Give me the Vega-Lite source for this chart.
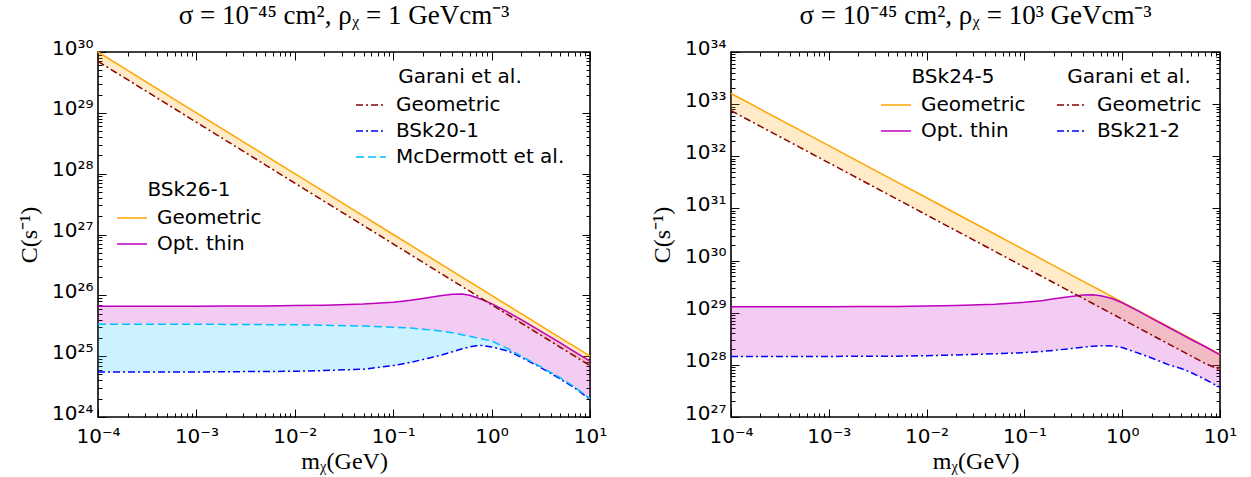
{
  "$schema": "https://vega.github.io/schema/vega-lite/v6.json",
  "padding": {"left": 16, "top": 1, "right": 5, "bottom": 2},
  "background": "white",
  "config": {
    "font": "DejaVu Sans",
    "view": {"stroke": "black", "strokeWidth": 1.6},
    "axis": {"grid": false, "domain": false, "tickColor": "black", "tickWidth": 1, "labelColor": "black", "labelFontSize": 20, "labelFont": "DejaVu Sans", "titleFont": "Liberation Serif", "titleFontSize": 24, "titleFontWeight": "normal", "titleColor": "black", "labelFlush": false, "labelOverlap": false, "labelBound": false},
    "legend": {"symbolType": "stroke", "symbolSize": 900, "symbolStrokeWidth": 1.5, "labelFontSize": 20, "titleFontSize": 20, "titleFontWeight": "normal", "labelColor": "black", "titleColor": "black", "labelOffset": 9, "rowPadding": 0, "titleAnchor": "middle", "titlePadding": 2, "padding": 0, "labelFont": "DejaVu Sans", "titleFont": "DejaVu Sans", "labelLimit": 0},
    "title": {"font": "Liberation Serif", "fontSize": 27, "fontWeight": "normal", "frame": "group", "offset": 8, "color": "black", "anchor": "middle"}
  },
  "datasets": {
    "left": [
      {"m": 0.0001, "geoA": 1e30, "geoG": 7e29, "thin": 6.6e25, "mcd": 3.35e25, "bsk": 5.5e24},
      {"m": 0.0002, "geoA": 5e29, "geoG": 3.5e29, "thin": 6.6e25, "mcd": 3.35e25, "bsk": 5.5e24},
      {"m": 0.0005, "geoA": 2e29, "geoG": 1.4e29, "thin": 6.6e25, "mcd": 3.35e25, "bsk": 5.5e24},
      {"m": 0.001, "geoA": 1e29, "geoG": 7e28, "thin": 6.6e25, "mcd": 3.35e25, "bsk": 5.5e24},
      {"m": 0.002, "geoA": 5e28, "geoG": 3.5e28, "thin": 6.65e25, "mcd": 3.33e25, "bsk": 5.55e24},
      {"m": 0.005, "geoA": 2e28, "geoG": 1.4e28, "thin": 6.7e25, "mcd": 3.3e25, "bsk": 5.6e24},
      {"m": 0.01, "geoA": 1e28, "geoG": 7e27, "thin": 6.8e25, "mcd": 3.28e25, "bsk": 5.65e24},
      {"m": 0.02, "geoA": 5e27, "geoG": 3.5e27, "thin": 6.9e25, "mcd": 3.22e25, "bsk": 5.8e24},
      {"m": 0.05, "geoA": 2e27, "geoG": 1.4e27, "thin": 7.2e25, "mcd": 3.12e25, "bsk": 6.1e24},
      {"m": 0.1, "geoA": 1e27, "geoG": 7e26, "thin": 7.7e25, "mcd": 3.0e25, "bsk": 7.0e24},
      {"m": 0.15, "geoA": 6.67e26, "geoG": 4.67e26, "thin": 8.3e25, "mcd": 2.9e25, "bsk": 7.9e24},
      {"m": 0.2, "geoA": 5e26, "geoG": 3.5e26, "thin": 8.9e25, "mcd": 2.78e25, "bsk": 8.8e24},
      {"m": 0.3, "geoA": 3.33e26, "geoG": 2.33e26, "thin": 9.8e25, "mcd": 2.6e25, "bsk": 1.03e25},
      {"m": 0.4, "geoA": 2.5e26, "geoG": 1.75e26, "thin": 1.04e26, "mcd": 2.42e25, "bsk": 1.18e25},
      {"m": 0.5, "geoA": 2e26, "geoG": 1.4e26, "thin": 1.05e26, "mcd": 2.25e25, "bsk": 1.32e25},
      {"m": 0.6, "geoA": 1.67e26, "geoG": 1.17e26, "thin": 1.0e26, "mcd": 2.12e25, "bsk": 1.42e25},
      {"m": 0.7, "geoA": 1.43e26, "geoG": 1e26, "thin": 9.2e25, "mcd": 2.0e25, "bsk": 1.48e25},
      {"m": 0.8, "geoA": 1.25e26, "geoG": 8.75e25, "thin": 8.5e25, "mcd": 1.92e25, "bsk": 1.5e25},
      {"m": 1, "geoA": 1e26, "geoG": 7e25, "thin": 7.3e25, "mcd": 1.78e25, "bsk": 1.42e25},
      {"m": 1.5, "geoA": 6.67e25, "geoG": 4.67e25, "thin": 5.2e25, "mcd": 1.3e25, "bsk": 1.2e25},
      {"m": 2, "geoA": 5e25, "geoG": 3.5e25, "thin": 4.0e25, "mcd": 1.0e25, "bsk": 9.6e24},
      {"m": 3, "geoA": 3.33e25, "geoG": 2.33e25, "thin": 2.7e25, "mcd": 7.0e24, "bsk": 6.8e24},
      {"m": 5, "geoA": 2e25, "geoG": 1.4e25, "thin": 1.65e25, "mcd": 4.4e24, "bsk": 4.2e24},
      {"m": 7, "geoA": 1.43e25, "geoG": 1e25, "thin": 1.18e25, "mcd": 3.1e24, "bsk": 3.0e24},
      {"m": 10, "geoA": 1e25, "geoG": 7e24, "thin": 8.3e24, "mcd": 2e24, "bsk": 1.95e24}
    ],
    "right": [
      {"m": 0.0001, "geoA": 1.6e33, "geoG": 7.5e32, "thin": 1.3e29, "bsk": 1.45e28},
      {"m": 0.0002, "geoA": 8e32, "geoG": 3.75e32, "thin": 1.3e29, "bsk": 1.45e28},
      {"m": 0.0005, "geoA": 3.2e32, "geoG": 1.5e32, "thin": 1.3e29, "bsk": 1.45e28},
      {"m": 0.001, "geoA": 1.6e32, "geoG": 7.5e31, "thin": 1.3e29, "bsk": 1.45e28},
      {"m": 0.002, "geoA": 8e31, "geoG": 3.75e31, "thin": 1.31e29, "bsk": 1.46e28},
      {"m": 0.005, "geoA": 3.2e31, "geoG": 1.5e31, "thin": 1.32e29, "bsk": 1.47e28},
      {"m": 0.01, "geoA": 1.6e31, "geoG": 7.5e30, "thin": 1.34e29, "bsk": 1.5e28},
      {"m": 0.02, "geoA": 8e30, "geoG": 3.75e30, "thin": 1.37e29, "bsk": 1.55e28},
      {"m": 0.05, "geoA": 3.2e30, "geoG": 1.5e30, "thin": 1.45e29, "bsk": 1.63e28},
      {"m": 0.1, "geoA": 1.6e30, "geoG": 7.5e29, "thin": 1.58e29, "bsk": 1.72e28},
      {"m": 0.15, "geoA": 1.07e30, "geoG": 5e29, "thin": 1.7e29, "bsk": 1.8e28},
      {"m": 0.2, "geoA": 8e29, "geoG": 3.75e29, "thin": 1.85e29, "bsk": 1.9e28},
      {"m": 0.3, "geoA": 5.33e29, "geoG": 2.5e29, "thin": 2.05e29, "bsk": 2.05e28},
      {"m": 0.4, "geoA": 4e29, "geoG": 1.88e29, "thin": 2.18e29, "bsk": 2.18e28},
      {"m": 0.5, "geoA": 3.2e29, "geoG": 1.5e29, "thin": 2.2e29, "bsk": 2.27e28},
      {"m": 0.6, "geoA": 2.67e29, "geoG": 1.25e29, "thin": 2.12e29, "bsk": 2.32e28},
      {"m": 0.7, "geoA": 2.29e29, "geoG": 1.07e29, "thin": 1.98e29, "bsk": 2.33e28},
      {"m": 0.8, "geoA": 2e29, "geoG": 9.4e28, "thin": 1.85e29, "bsk": 2.3e28},
      {"m": 1, "geoA": 1.6e29, "geoG": 7.5e28, "thin": 1.55e29, "bsk": 2.15e28},
      {"m": 1.5, "geoA": 1.07e29, "geoG": 5e28, "thin": 1.05e29, "bsk": 1.65e28},
      {"m": 2, "geoA": 8e28, "geoG": 3.75e28, "thin": 7.8e28, "bsk": 1.35e28},
      {"m": 3, "geoA": 5.33e28, "geoG": 2.5e28, "thin": 5.2e28, "bsk": 1.0e28},
      {"m": 4, "geoA": 4e28, "geoG": 1.88e28, "thin": 3.9e28, "bsk": 8.5e27},
      {"m": 5, "geoA": 3.2e28, "geoG": 1.5e28, "thin": 3.1e28, "bsk": 7.2e27},
      {"m": 7, "geoA": 2.29e28, "geoG": 1.07e28, "thin": 2.25e28, "bsk": 5.3e27},
      {"m": 10, "geoA": 1.6e28, "geoG": 8e27, "thin": 1.55e28, "bsk": 3.7e27}
    ]
  },
  "spacing": 41,
  "resolve": {
    "scale": {"x": "independent", "y": "independent", "color": "independent", "stroke": "independent", "strokeDash": "independent"},
    "legend": {"color": "independent", "stroke": "independent", "strokeDash": "independent"}
  },
  "hconcat": [
    {
      "width": 492,
      "height": 365,
      "title": {"text": "σ = 10⁻⁴⁵  cm²,   ρᵪ = 1  GeVcm⁻³"},
      "data": {"name": "left"},
      "resolve": {"axis": {"x": "independent", "y": "independent"}},
      "layer": [
        {
          "mark": {"type": "area", "color": "#ffa500", "opacity": 0.22},
          "encoding": {
            "x": {"field": "m", "type": "quantitative", "scale": {"type": "log", "domain": [0.0001, 10], "nice": false},
                  "axis": {"orient": "bottom", "values": [0.0001, 0.001, 0.01, 0.1, 1, 10], "tickSize": -8, "labelPadding": 17, "labelExpr": "'10' + ['⁻⁴','⁻³','⁻²','⁻¹','⁰','¹'][round(log(datum.value)/LN10)+4]", "title": "mᵪ(GeV)", "titlePadding": 3}},
            "y": {"field": "geoA", "type": "quantitative", "scale": {"type": "log", "domain": [1e24, 1e30], "nice": false},
                  "axis": {"orient": "left", "values": [1e24, 1e25, 1e26, 1e27, 1e28, 1e29, 1e30], "tickSize": -8, "labelPadding": 13, "labelOffset": -4, "labelExpr": "'10' + ['²⁴','²⁵','²⁶','²⁷','²⁸','²⁹','³⁰'][round(log(datum.value)/LN10)-24]", "title": "C(s⁻¹)", "titlePadding": 10}},
            "y2": {"field": "geoG"}
          }
        },
        {
          "mark": {"type": "area", "color": "#bf00bf", "opacity": 0.2},
          "encoding": {
            "x": {"field": "m", "type": "quantitative", "scale": {"type": "log", "domain": [0.0001, 10], "nice": false},
                  "axis": {"orient": "top", "values": [0.0001, 0.001, 0.01, 0.1, 1, 10], "tickSize": -8, "labels": false, "title": null}},
            "y": {"field": "thin", "type": "quantitative", "scale": {"type": "log", "domain": [1e24, 1e30], "nice": false},
                  "axis": {"orient": "right", "values": [1e24, 1e25, 1e26, 1e27, 1e28, 1e29, 1e30], "tickSize": -8, "labels": false, "title": null}},
            "y2": {"field": "mcd"}
          }
        },
        {
          "mark": {"type": "area", "color": "#00bfff", "opacity": 0.2},
          "encoding": {
            "x": {"field": "m", "type": "quantitative", "scale": {"type": "log", "domain": [0.0001, 10], "nice": false},
                  "axis": {"orient": "bottom", "values": [0.0002,0.0003,0.0004,0.0005,0.0006,0.0007,0.0008,0.0009,0.002,0.003,0.004,0.005,0.006,0.007,0.008,0.009,0.02,0.03,0.04,0.05,0.06,0.07,0.08,0.09,0.2,0.3,0.4,0.5,0.6,0.7,0.8,0.9,2,3,4,5,6,7,8,9], "tickSize": -4, "labels": false, "title": null}},
            "y": {"field": "mcd", "type": "quantitative", "scale": {"type": "log", "domain": [1e24, 1e30], "nice": false},
                  "axis": {"orient": "left", "values": [2e24,3e24,4e24,5e24,6e24,7e24,8e24,9e24,2e25,3e25,4e25,5e25,6e25,7e25,8e25,9e25,2e26,3e26,4e26,5e26,6e26,7e26,8e26,9e26,2e27,3e27,4e27,5e27,6e27,7e27,8e27,9e27,2e28,3e28,4e28,5e28,6e28,7e28,8e28,9e28,2e29,3e29,4e29,5e29,6e29,7e29,8e29,9e29], "tickSize": -4, "labels": false, "title": null}},
            "y2": {"field": "bsk"}
          }
        },
        {
          "mark": {"type": "line", "strokeWidth": 1.5},
          "encoding": {
            "x": {"field": "m", "type": "quantitative", "scale": {"type": "log", "domain": [0.0001, 10], "nice": false},
                  "axis": {"orient": "top", "values": [0.0002,0.0003,0.0004,0.0005,0.0006,0.0007,0.0008,0.0009,0.002,0.003,0.004,0.005,0.006,0.007,0.008,0.009,0.02,0.03,0.04,0.05,0.06,0.07,0.08,0.09,0.2,0.3,0.4,0.5,0.6,0.7,0.8,0.9,2,3,4,5,6,7,8,9], "tickSize": -4, "labels": false, "title": null}},
            "y": {"field": "geoA", "type": "quantitative", "scale": {"type": "log", "domain": [1e24, 1e30], "nice": false},
                  "axis": {"orient": "right", "values": [2e24,3e24,4e24,5e24,6e24,7e24,8e24,9e24,2e25,3e25,4e25,5e25,6e25,7e25,8e25,9e25,2e26,3e26,4e26,5e26,6e26,7e26,8e26,9e26,2e27,3e27,4e27,5e27,6e27,7e27,8e27,9e27,2e28,3e28,4e28,5e28,6e28,7e28,8e28,9e28,2e29,3e29,4e29,5e29,6e29,7e29,8e29,9e29], "tickSize": -4, "labels": false, "title": null}},
            "stroke": {"datum": "Geometric", "type": "nominal", "scale": {"domain": ["Geometric", "Opt. thin"], "range": ["#ffa500", "#bf00bf"]}, "legend": {"title": "BSk26-1", "orient": "none", "legendX": 18, "legendY": 128}}
          }
        },
        {
          "mark": {"type": "line", "strokeWidth": 1.5},
          "encoding": {
            "x": {"field": "m", "type": "quantitative", "scale": {"type": "log", "domain": [0.0001, 10], "nice": false}, "axis": null},
            "y": {"field": "thin", "type": "quantitative", "scale": {"type": "log", "domain": [1e24, 1e30], "nice": false}, "axis": null},
            "stroke": {"datum": "Opt. thin", "type": "nominal", "scale": {"domain": ["Geometric", "Opt. thin"], "range": ["#ffa500", "#bf00bf"]}, "legend": {"title": "BSk26-1", "orient": "none", "legendX": 18, "legendY": 128}}
          }
        },
        {
          "mark": {"type": "line", "strokeWidth": 1.5},
          "encoding": {
            "x": {"field": "m", "type": "quantitative", "scale": {"type": "log", "domain": [0.0001, 10], "nice": false}, "axis": null},
            "y": {"field": "geoG", "type": "quantitative", "scale": {"type": "log", "domain": [1e24, 1e30], "nice": false}, "axis": null},
            "color": {"datum": "Geometric", "type": "nominal", "scale": {"domain": ["Geometric", "BSk20-1", "McDermott et al."], "range": ["#8b0000", "#0000ff", "#00bfff"]}, "legend": {"title": "Garani et al.", "orient": "none", "legendX": 257, "legendY": 15}},
            "strokeDash": {"datum": "Geometric", "type": "nominal", "scale": {"domain": ["Geometric", "BSk20-1", "McDermott et al."], "range": [[7, 3, 2, 3], [7, 3, 2, 3], [8, 4]]}, "legend": {"title": "Garani et al.", "orient": "none", "legendX": 257, "legendY": 15}}
          }
        },
        {
          "mark": {"type": "line", "strokeWidth": 1.5},
          "encoding": {
            "x": {"field": "m", "type": "quantitative", "scale": {"type": "log", "domain": [0.0001, 10], "nice": false}, "axis": null},
            "y": {"field": "bsk", "type": "quantitative", "scale": {"type": "log", "domain": [1e24, 1e30], "nice": false}, "axis": null},
            "color": {"datum": "BSk20-1", "type": "nominal", "scale": {"domain": ["Geometric", "BSk20-1", "McDermott et al."], "range": ["#8b0000", "#0000ff", "#00bfff"]}, "legend": {"title": "Garani et al.", "orient": "none", "legendX": 257, "legendY": 15}},
            "strokeDash": {"datum": "BSk20-1", "type": "nominal", "scale": {"domain": ["Geometric", "BSk20-1", "McDermott et al."], "range": [[7, 3, 2, 3], [7, 3, 2, 3], [8, 4]]}, "legend": {"title": "Garani et al.", "orient": "none", "legendX": 257, "legendY": 15}}
          }
        },
        {
          "mark": {"type": "line", "strokeWidth": 1.5},
          "encoding": {
            "x": {"field": "m", "type": "quantitative", "scale": {"type": "log", "domain": [0.0001, 10], "nice": false}, "axis": null},
            "y": {"field": "mcd", "type": "quantitative", "scale": {"type": "log", "domain": [1e24, 1e30], "nice": false}, "axis": null},
            "color": {"datum": "McDermott et al.", "type": "nominal", "scale": {"domain": ["Geometric", "BSk20-1", "McDermott et al."], "range": ["#8b0000", "#0000ff", "#00bfff"]}, "legend": {"title": "Garani et al.", "orient": "none", "legendX": 257, "legendY": 15}},
            "strokeDash": {"datum": "McDermott et al.", "type": "nominal", "scale": {"domain": ["Geometric", "BSk20-1", "McDermott et al."], "range": [[7, 3, 2, 3], [7, 3, 2, 3], [8, 4]]}, "legend": {"title": "Garani et al.", "orient": "none", "legendX": 257, "legendY": 15}}
          }
        }
      ]
    },
    {
      "width": 489,
      "height": 365,
      "title": {"text": "σ = 10⁻⁴⁵  cm²,   ρᵪ = 10³  GeVcm⁻³"},
      "data": {"name": "right"},
      "resolve": {"axis": {"x": "independent", "y": "independent"}},
      "layer": [
        {
          "mark": {"type": "area", "color": "#ffa500", "opacity": 0.22},
          "encoding": {
            "x": {"field": "m", "type": "quantitative", "scale": {"type": "log", "domain": [0.0001, 10], "nice": false},
                  "axis": {"orient": "bottom", "values": [0.0001, 0.001, 0.01, 0.1, 1, 10], "tickSize": -8, "labelPadding": 17, "labelExpr": "'10' + ['⁻⁴','⁻³','⁻²','⁻¹','⁰','¹'][round(log(datum.value)/LN10)+4]", "title": "mᵪ(GeV)", "titlePadding": 3}},
            "y": {"field": "geoA", "type": "quantitative", "scale": {"type": "log", "domain": [1e27, 1e34], "nice": false},
                  "axis": {"orient": "left", "values": [1e27, 1e28, 1e29, 1e30, 1e31, 1e32, 1e33, 1e34], "tickSize": -8, "labelPadding": 13, "labelOffset": -4, "labelExpr": "'10' + ['²⁷','²⁸','²⁹','³⁰','³¹','³²','³³','³⁴'][round(log(datum.value)/LN10)-27]", "title": "C(s⁻¹)", "titlePadding": 10}},
            "y2": {"field": "geoG"}
          }
        },
        {
          "mark": {"type": "area", "color": "#bf00bf", "opacity": 0.2},
          "encoding": {
            "x": {"field": "m", "type": "quantitative", "scale": {"type": "log", "domain": [0.0001, 10], "nice": false},
                  "axis": {"orient": "top", "values": [0.0001, 0.001, 0.01, 0.1, 1, 10], "tickSize": -8, "labels": false, "title": null}},
            "y": {"field": "thin", "type": "quantitative", "scale": {"type": "log", "domain": [1e27, 1e34], "nice": false},
                  "axis": {"orient": "right", "values": [1e27, 1e28, 1e29, 1e30, 1e31, 1e32, 1e33, 1e34], "tickSize": -8, "labels": false, "title": null}},
            "y2": {"field": "bsk"}
          }
        },
        {
          "mark": {"type": "line", "strokeWidth": 1.5},
          "encoding": {
            "x": {"field": "m", "type": "quantitative", "scale": {"type": "log", "domain": [0.0001, 10], "nice": false},
                  "axis": {"orient": "bottom", "values": [0.0002,0.0003,0.0004,0.0005,0.0006,0.0007,0.0008,0.0009,0.002,0.003,0.004,0.005,0.006,0.007,0.008,0.009,0.02,0.03,0.04,0.05,0.06,0.07,0.08,0.09,0.2,0.3,0.4,0.5,0.6,0.7,0.8,0.9,2,3,4,5,6,7,8,9], "tickSize": -4, "labels": false, "title": null}},
            "y": {"field": "geoA", "type": "quantitative", "scale": {"type": "log", "domain": [1e27, 1e34], "nice": false},
                  "axis": {"orient": "left", "values": [2e27,3e27,4e27,5e27,6e27,7e27,8e27,9e27,2e28,3e28,4e28,5e28,6e28,7e28,8e28,9e28,2e29,3e29,4e29,5e29,6e29,7e29,8e29,9e29,2e30,3e30,4e30,5e30,6e30,7e30,8e30,9e30,2e31,3e31,4e31,5e31,6e31,7e31,8e31,9e31,2e32,3e32,4e32,5e32,6e32,7e32,8e32,9e32,2e33,3e33,4e33,5e33,6e33,7e33,8e33,9e33], "tickSize": -4, "labels": false, "title": null}},
            "stroke": {"datum": "Geometric", "type": "nominal", "scale": {"domain": ["Geometric", "Opt. thin"], "range": ["#ffa500", "#bf00bf"]}, "legend": {"title": "BSk24-5", "orient": "none", "legendX": 149, "legendY": 15}}
          }
        },
        {
          "mark": {"type": "line", "strokeWidth": 1.5},
          "encoding": {
            "x": {"field": "m", "type": "quantitative", "scale": {"type": "log", "domain": [0.0001, 10], "nice": false},
                  "axis": {"orient": "top", "values": [0.0002,0.0003,0.0004,0.0005,0.0006,0.0007,0.0008,0.0009,0.002,0.003,0.004,0.005,0.006,0.007,0.008,0.009,0.02,0.03,0.04,0.05,0.06,0.07,0.08,0.09,0.2,0.3,0.4,0.5,0.6,0.7,0.8,0.9,2,3,4,5,6,7,8,9], "tickSize": -4, "labels": false, "title": null}},
            "y": {"field": "thin", "type": "quantitative", "scale": {"type": "log", "domain": [1e27, 1e34], "nice": false},
                  "axis": {"orient": "right", "values": [2e27,3e27,4e27,5e27,6e27,7e27,8e27,9e27,2e28,3e28,4e28,5e28,6e28,7e28,8e28,9e28,2e29,3e29,4e29,5e29,6e29,7e29,8e29,9e29,2e30,3e30,4e30,5e30,6e30,7e30,8e30,9e30,2e31,3e31,4e31,5e31,6e31,7e31,8e31,9e31,2e32,3e32,4e32,5e32,6e32,7e32,8e32,9e32,2e33,3e33,4e33,5e33,6e33,7e33,8e33,9e33], "tickSize": -4, "labels": false, "title": null}},
            "stroke": {"datum": "Opt. thin", "type": "nominal", "scale": {"domain": ["Geometric", "Opt. thin"], "range": ["#ffa500", "#bf00bf"]}, "legend": {"title": "BSk24-5", "orient": "none", "legendX": 149, "legendY": 15}}
          }
        },
        {
          "mark": {"type": "line", "strokeWidth": 1.5},
          "encoding": {
            "x": {"field": "m", "type": "quantitative", "scale": {"type": "log", "domain": [0.0001, 10], "nice": false}, "axis": null},
            "y": {"field": "geoG", "type": "quantitative", "scale": {"type": "log", "domain": [1e27, 1e34], "nice": false}, "axis": null},
            "color": {"datum": "Geometric", "type": "nominal", "scale": {"domain": ["Geometric", "BSk21-2"], "range": ["#8b0000", "#0000ff"]}, "legend": {"title": "Garani et al.", "orient": "none", "legendX": 325, "legendY": 15}},
            "strokeDash": {"datum": "Geometric", "type": "nominal", "scale": {"domain": ["Geometric", "BSk21-2"], "range": [[7, 3, 2, 3], [7, 3, 2, 3]]}, "legend": {"title": "Garani et al.", "orient": "none", "legendX": 325, "legendY": 15}}
          }
        },
        {
          "mark": {"type": "line", "strokeWidth": 1.5},
          "encoding": {
            "x": {"field": "m", "type": "quantitative", "scale": {"type": "log", "domain": [0.0001, 10], "nice": false}, "axis": null},
            "y": {"field": "bsk", "type": "quantitative", "scale": {"type": "log", "domain": [1e27, 1e34], "nice": false}, "axis": null},
            "color": {"datum": "BSk21-2", "type": "nominal", "scale": {"domain": ["Geometric", "BSk21-2"], "range": ["#8b0000", "#0000ff"]}, "legend": {"title": "Garani et al.", "orient": "none", "legendX": 325, "legendY": 15}},
            "strokeDash": {"datum": "BSk21-2", "type": "nominal", "scale": {"domain": ["Geometric", "BSk21-2"], "range": [[7, 3, 2, 3], [7, 3, 2, 3]]}, "legend": {"title": "Garani et al.", "orient": "none", "legendX": 325, "legendY": 15}}
          }
        }
      ]
    }
  ]
}
